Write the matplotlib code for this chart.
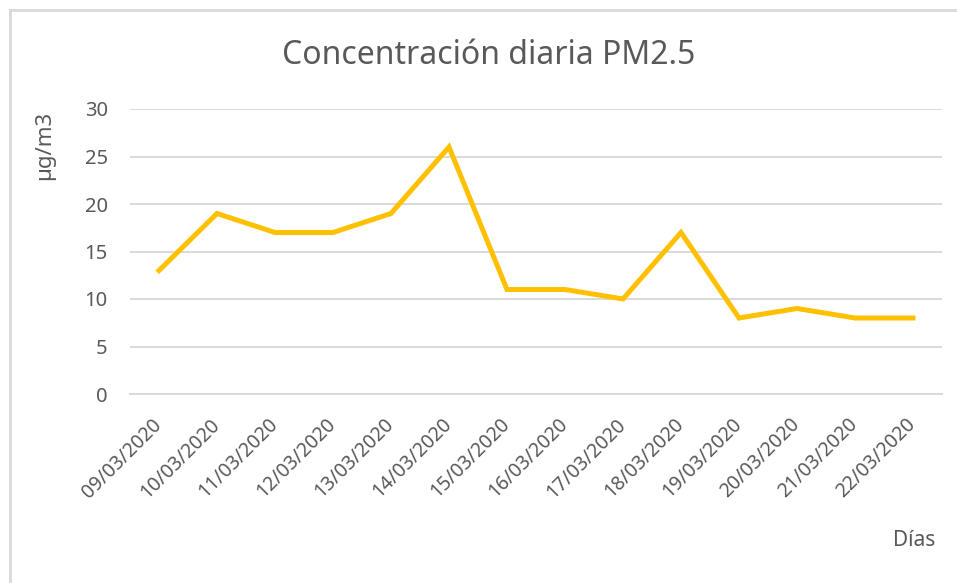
import matplotlib
matplotlib.use("Agg")
import matplotlib.pyplot as plt
from matplotlib.lines import Line2D

plt.rcParams['font.family'] = ['Noto Sans', 'DejaVu Sans']

dias = ["09/03/2020", "10/03/2020", "11/03/2020", "12/03/2020", "13/03/2020",
        "14/03/2020", "15/03/2020", "16/03/2020", "17/03/2020", "18/03/2020",
        "19/03/2020", "20/03/2020", "21/03/2020", "22/03/2020"]
pm25 = [13, 19, 17, 17, 19, 26, 11, 11, 10, 17, 8, 9, 8, 8]
yticks = [0, 5, 10, 15, 20, 25, 30]

text_col = "#595959"
grid_col = "#D9D9D9"

fig = plt.figure(figsize=(9.57, 5.83), dpi=100)
ax = fig.add_axes([130/957, 1 - 394/583, 812/957, 285/583])

x = list(range(len(dias)))
ax.plot(x, pm25, color="#FFC000", linewidth=3.6, solid_joinstyle="miter", zorder=3)

ax.set_xlim(-0.5, len(dias) - 0.5)
ax.set_ylim(0, 30)
ax.set_yticks(yticks)
ax.set_xticks(x)
ax.set_xticklabels(dias, rotation=45, ha="right", va="center", rotation_mode="anchor")
ax.tick_params(axis="x", length=0, pad=20, labelsize=14, labelcolor=text_col)
ax.tick_params(axis="y", length=0, pad=16, labelsize=14.5, labelcolor=text_col)
ax.grid(axis="y", color=grid_col, linewidth=1.4)
ax.set_axisbelow(True)
for s in ["top", "right", "left"]:
    ax.spines[s].set_visible(False)
ax.spines["bottom"].set_color(grid_col)
ax.spines["bottom"].set_linewidth(1.4)

fig.text(489/957, 1 - 55/583, "Concentración diaria PM2.5", ha="center", va="center",
         fontsize=23, color=text_col)
fig.text(45/957, 1 - 145/583, "µg/m3", ha="center", va="center", rotation=90,
         fontsize=16, color=text_col)
fig.text(914/957, 1 - 540/583, "Días", ha="center", va="center",
         fontsize=15, color=text_col)

# chart frame
fig.add_artist(Line2D([9.5/957, 9.5/957], [0, 1 - 10/583], color=grid_col, linewidth=2,
                      transform=fig.transFigure))
fig.add_artist(Line2D([9.5/957, 1], [1 - 10/583, 1 - 10/583], color=grid_col, linewidth=2,
                      transform=fig.transFigure))

fig.savefig("out.png", dpi=100)
